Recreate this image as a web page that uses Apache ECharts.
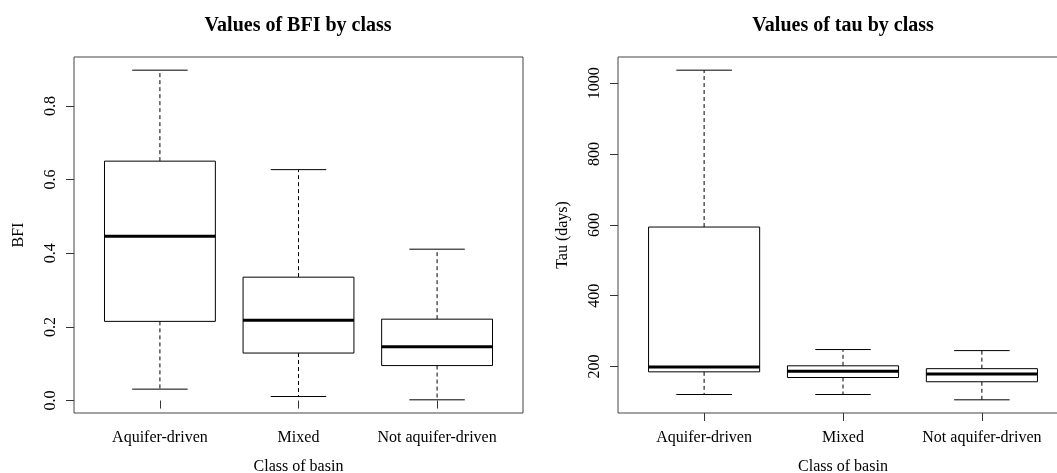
<!DOCTYPE html>
<html><head><meta charset="utf-8">
<script src="https://cdn.jsdelivr.net/npm/echarts@6/dist/echarts.min.js"></script>
<style>html,body{margin:0;padding:0;background:#fff}#c{width:1057px;height:473px}</style>
</head><body><div id="c"></div>
<script>
// ---- data ----
const categories = ['Aquifer-driven', 'Mixed', 'Not aquifer-driven'];
const classPositions = [1, 2, 3];

const bfiMin    = [0.031, 0.011, 0.002];
const bfiQ1     = [0.215, 0.129, 0.095];
const bfiMedian = [0.446, 0.218, 0.146];
const bfiQ3     = [0.650, 0.335, 0.221];
const bfiMax    = [0.897, 0.627, 0.411];

const tauMin    = [121, 121, 106];
const tauQ1     = [185, 169, 157];
const tauMedian = [199, 187, 179];
const tauQ3     = [594, 202, 194];
const tauMax    = [1037, 248, 245];

const bfiTicks = [0, 0.2, 0.4, 0.6, 0.8];
const tauTicks = [200, 400, 600, 800, 1000];

const titles = ['Values of BFI by class', 'Values of tau by class'];
const xName = 'Class of basin';
const yNames = ['BFI', 'Tau (days)'];

// ---- helpers ----
const FONT = 'Liberation Serif';
function rLimits(lo, hi) { const p = 0.04 * (hi - lo); return [lo - p, hi + p]; }
function boxData(mn, q1, md, q3, mx) {
  return categories.map((c, i) => [classPositions[i], mn[i], q1[i], md[i], q3[i], mx[i]]);
}
const bfiLim = rLimits(Math.min(...bfiMin), Math.max(...bfiMax));
const tauLim = rLimits(Math.min(...tauMin), Math.max(...tauMax));
const xLim = rLimits(0.5, categories.length + 0.5);

function renderBox(params, api) {
  const x = api.value(0);
  const bh = 0.4, ch = 0.2;
  const pMin = api.coord([x, api.value(1)]);
  const pQ1 = api.coord([x, api.value(2)]);
  const pMed = api.coord([x, api.value(3)]);
  const pQ3 = api.coord([x, api.value(4)]);
  const pMax = api.coord([x, api.value(5)]);
  const xl = api.coord([x - bh, 0])[0], xr = api.coord([x + bh, 0])[0];
  const cl = api.coord([x - ch, 0])[0], cr = api.coord([x + ch, 0])[0];
  const dash = { stroke: '#000', lineWidth: 1, lineDash: [4, 3] };
  const solid = { stroke: '#000', lineWidth: 1 };
  return {
    type: 'group',
    children: [
      { type: 'line', shape: { x1: pQ3[0], y1: pQ3[1], x2: pMax[0], y2: pMax[1] }, style: dash },
      { type: 'line', shape: { x1: pQ1[0], y1: pQ1[1], x2: pMin[0], y2: pMin[1] }, style: dash },
      { type: 'line', shape: { x1: cl, y1: pMax[1], x2: cr, y2: pMax[1] }, style: solid },
      { type: 'line', shape: { x1: cl, y1: pMin[1], x2: cr, y2: pMin[1] }, style: solid },
      { type: 'rect', shape: { x: xl, y: pQ3[1], width: xr - xl, height: pQ1[1] - pQ3[1] },
        style: { fill: '#fff', stroke: '#000', lineWidth: 1 } },
      { type: 'line', shape: { x1: xl, y1: pMed[1], x2: xr, y2: pMed[1] },
        style: { stroke: '#000', lineWidth: 3 } }
    ]
  };
}

function xAxisFor(i) {
  return {
    gridIndex: i, type: 'value', min: xLim[0], max: xLim[1],
    axisLine: { show: false }, splitLine: { show: false },
    axisTick: { show: true, customValues: classPositions, length: 8, lineStyle: { color: '#333' } },
    axisLabel: { customValues: classPositions, formatter: v => categories[Math.round(v) - 1],
      fontFamily: FONT, fontSize: 16, color: '#000', margin: 17 },
    name: xName, nameLocation: 'middle', nameGap: 46,
    nameTextStyle: { fontFamily: FONT, fontSize: 16, color: '#000' }
  };
}
function yAxisFor(i, lim, ticks, name) {
  return {
    gridIndex: i, type: 'value', min: lim[0], max: lim[1],
    axisLine: { show: false }, splitLine: { show: false },
    axisTick: { show: true, customValues: ticks, length: 8, lineStyle: { color: '#333' } },
    axisLabel: { customValues: ticks, rotate: 90, fontFamily: FONT, fontSize: 16, color: '#000', margin: 15,
      formatter: v => (i === 0 ? v.toFixed(1) : String(v)) },
    name: name, nameLocation: 'middle', nameGap: 47,
    nameTextStyle: { fontFamily: FONT, fontSize: 16, color: '#000' }
  };
}

const chart = echarts.init(document.getElementById('c'), null, { renderer: 'canvas' });
chart.setOption({
  animation: false,
  backgroundColor: '#fff',
  title: [
    { text: titles[0], left: 298, top: 16, textAlign: 'center', padding: 0,
      textStyle: { fontFamily: FONT, fontWeight: 'bold', fontSize: 20, color: '#000' } },
    { text: titles[1], left: 843, top: 16, textAlign: 'center', padding: 0,
      textStyle: { fontFamily: FONT, fontWeight: 'bold', fontSize: 20, color: '#000' } }
  ],
  grid: [
    { left: 74, top: 57, right: 534, bottom: 60, show: true, borderColor: '#444', borderWidth: 1,
      backgroundColor: 'transparent', containLabel: false, outerBoundsMode: 'none' },
    { left: 618, top: 57, right: -11, bottom: 60, show: true, borderColor: '#444', borderWidth: 1,
      backgroundColor: 'transparent', containLabel: false, outerBoundsMode: 'none' }
  ],
  xAxis: [xAxisFor(0), xAxisFor(1)],
  yAxis: [yAxisFor(0, bfiLim, bfiTicks, yNames[0]), yAxisFor(1, tauLim, tauTicks, yNames[1])],
  series: [
    { type: 'custom', xAxisIndex: 0, yAxisIndex: 0, renderItem: renderBox,
      data: boxData(bfiMin, bfiQ1, bfiMedian, bfiQ3, bfiMax), encode: { x: 0, y: [1, 2, 3, 4, 5] } },
    { type: 'custom', xAxisIndex: 1, yAxisIndex: 1, renderItem: renderBox,
      data: boxData(tauMin, tauQ1, tauMedian, tauQ3, tauMax), encode: { x: 0, y: [1, 2, 3, 4, 5] } }
  ]
});
</script></body></html>
